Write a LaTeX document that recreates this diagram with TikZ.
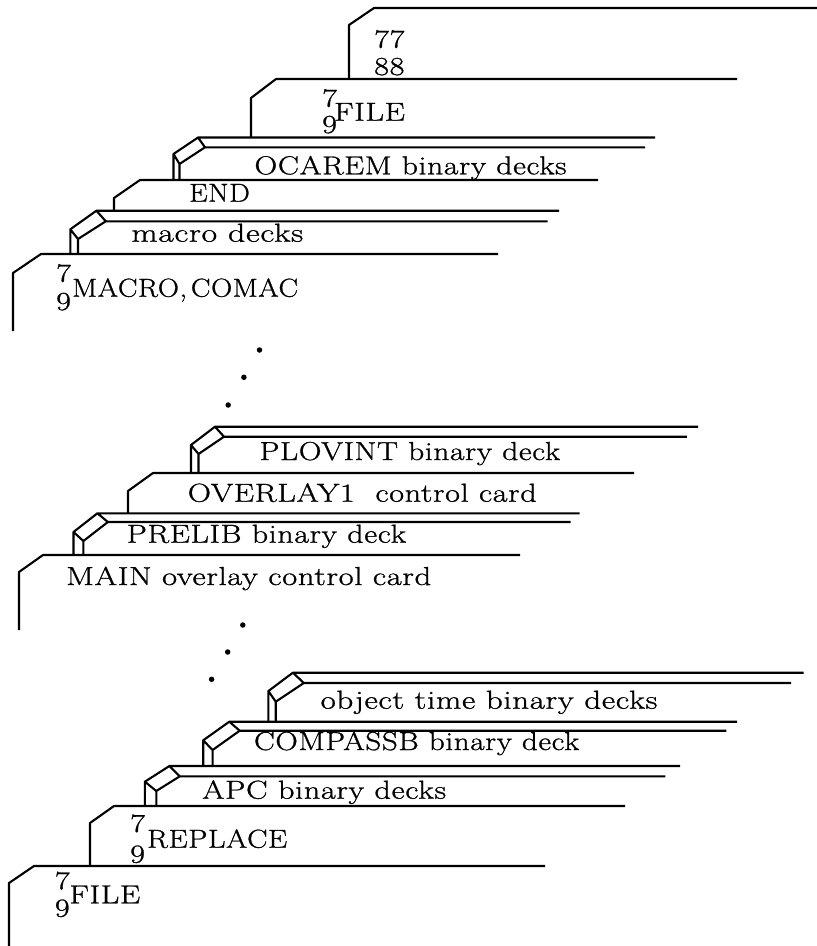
\documentclass[tikz,border=0pt]{standalone}
\usepackage{fontspec}
\setmainfont[FakeStretch=1.24,LetterSpace=2.5,FakeBold=1]{Latin Modern Roman}
\usepackage{tikz}
\tikzset{
  trait/.style={line width=2.1pt,line join=round,color=black},
  texte/.style={anchor=base west,inner sep=0pt,font=\fontsize{26}{30}\selectfont,color=black},
  point/.style={circle,fill=black,inner sep=0pt,minimum size=5.5pt},
}

\begin{document}
\begin{tikzpicture}[x=1pt,y=-1pt]
  \useasboundingbox (0,0) rectangle (817,946);
  % cards
  \foreach \lx/\ly/\tx/\ty/\rx/\by in {349/25/374/8/817/79, 251/98/276/79/737/137, 114/198/140/180/598/211, 13/273/41/254/498/331,
      128/491/153/473/634/513, 19/572/43/555/520/630, 90/823/114/806/625/866, 9/883/34/866/545/946}
    \draw[trait] (\lx,\by) -- (\lx,\ly) -- (\tx,\ty) -- (\rx,\ty);
  % decks
  \foreach \lx/\ly/\tx/\ty/\rx/\ix/\iy/\sx/\bx/\by/\bot in {173.5/154/198/137.5/655/205/147.3/645/179.5/164/180,
      70.3/229.3/96.4/210.7/559/105.8/221.3/547.7/78/239/253.7,
      191/445/215/426.7/698/224/436.7/686.8/198.5/454/472.7,
      73.5/532/97.4/513.3/579.5/107.9/522/570.6/83.4/541/555,
      268.4/691/292.9/672.7/803.5/303.8/683/791/275.7/701.7/721.7,
      203.2/740.3/229.3/721.7/737/239.7/730.7/726.4/212.6/750/766,
      144.9/781.7/169.4/766/680/179.8/776.3/665.4/156.3/791/806.3}
    \draw[trait] (\lx,\bot) -- (\lx,\ly) -- (\tx,\ty) -- (\rx,\ty)
      (\tx,\ty) -- (\ix,\iy) -- (\sx,\iy)
      (\ix,\iy) -- (\bx,\by) -- (\lx,\ly)
      (\bx,\by) -- (\bx,\bot);
  % labels
  \node[texte] (n77) at (374,47.7) {77};
  \node[texte] (n88) at (374,75) {88};
  \node[texte] (septa) at (322,106.7) {7};
  \node[texte] (neufa) at (322,133) {9};
  \node[texte] (filea) at (334,120.7) {FILE};
  \node[texte] (ocarem) at (254.3,174.3) {\scalebox{.98}[1]{OCAREM binary decks}};
  \node[texte] (endcard) at (189,201.7) {\scalebox{.91}[1]{END}};
  \node[texte] (macros) at (131.3,241.7) {\scalebox{1.05}[1]{macro decks}};
  \node[texte] (septb) at (56,281.7) {7};
  \node[texte] (neufb) at (56,310) {9};
  \node[texte] (comac) at (72,296.7) {\scalebox{.91}[1]{MACRO,\hspace{-6pt} COMAC}};
  \node[texte] (plovint) at (259.5,460) {\scalebox{.975}[1]{PLOVINT binary deck}};
  \node[texte] (overlay) at (187.6,501.7) {OVERLAY1\ \ control card};
  \node[texte] (prelib) at (126.6,542.7) {\scalebox{.99}[1]{PRELIB binary deck}};
  \node[texte] (main) at (66,585) {\scalebox{1.01}[1]{MAIN overlay control card}};
  \node[texte] (objet) at (320.5,708.7) {\scalebox{1.02}[1]{object time binary decks}};
  \node[texte] (compass) at (253.8,750) {\scalebox{.965}[1]{COMPASSB binary deck}};
  \node[texte] (apc) at (202,798.7) {APC binary decks};
  \node[texte] (septc) at (130,832) {7};
  \node[texte] (neufc) at (130,862.7) {9};
  \node[texte] (replace) at (147,847.7) {\scalebox{.945}[1]{REPLACE}};
  \node[texte] (septd) at (54.7,889.3) {7};
  \node[texte] (neufd) at (54.7,916.7) {9};
  \node[texte] (fileb) at (69.3,903.3) {FILE};
  % dots
  \foreach \n/\x/\y in {a/259.5/350, b/243.9/377.3, c/228.2/405, d/242.8/625, e/227.7/652, f/211.6/679.3}
    \node[point] (pt\n) at (\x,\y) {};
\end{tikzpicture}
\end{document}
